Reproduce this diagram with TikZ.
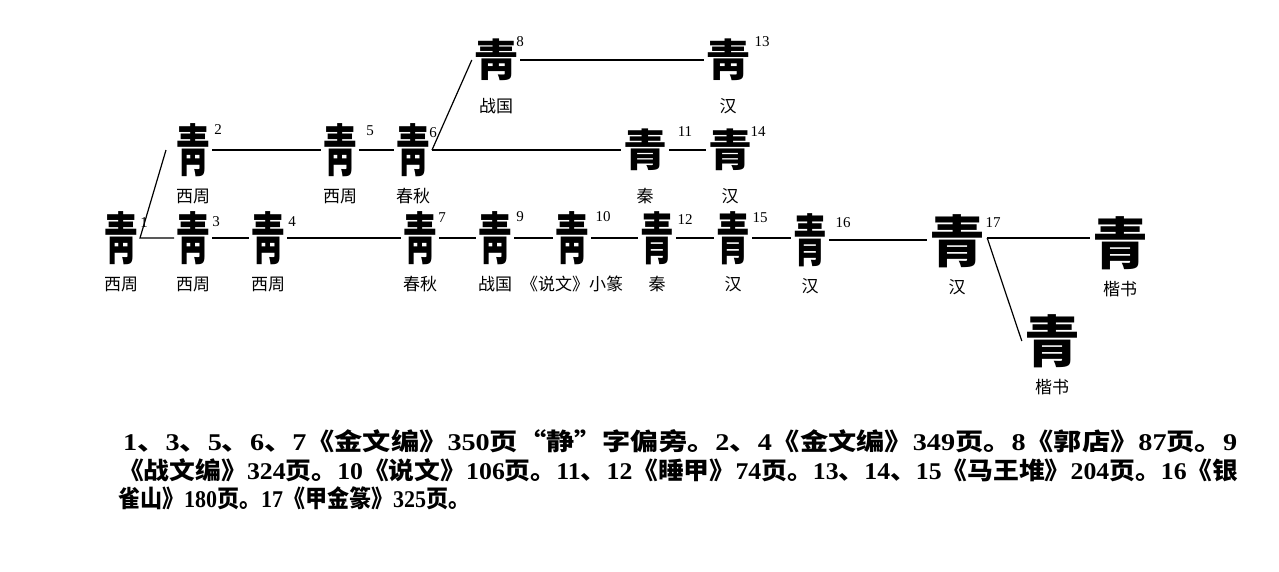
\documentclass[tikz,border=0pt]{standalone}
\usepackage{graphicx}
\usepackage{fontspec}
\setmainfont{Liberation Serif}
\newfontfamily\cjk{Noto Sans CJK SC}
\newcommand\narrow[1]{\scalebox{.6}[1]{#1}}
\newcommand\nr[1]{\textrm{#1}}

\begin{document}
\begin{tikzpicture}[x=1pt,y=-1pt,
                glyph/.style = {inner sep=2pt, font=\cjk\bfseries\fontsize{56}{56}\selectfont},
                small glyph/.style = {glyph, font=\cjk\bfseries\fontsize{44}{44}\selectfont},
                era/.style = {inner sep=1pt, font=\cjk\fontsize{17}{17}\selectfont},
                num/.style = {inner sep=0pt, font=\fontsize{15}{15}\selectfont},
                link/.style = {line width=1.2pt},
                note/.style = {anchor=west, inner sep=0pt, font=\cjk\bfseries\fontsize{24}{24}\selectfont}
            ]
            \useasboundingbox (0,0) rectangle (1279,571);
            % top rows
            \node[small glyph] (g8) at (496,60) {靑};
            \node[small glyph] (g13) at (728,60) {靑};
            \node[glyph] (g2) at (193,150) {\narrow{靑}};
            \node[glyph] (g5) at (340,150) {\narrow{靑}};
            \node[glyph] (g6) at (413,150) {\narrow{靑}};
            \node[small glyph] (g11) at (645,150) {青};
            \node[small glyph] (g14) at (730,150) {青};
            % main row
            \node[glyph] (g1) at (121,238) {\narrow{靑}};
            \node[glyph] (g3) at (193,238) {\narrow{靑}};
            \node[glyph] (g4) at (268,238) {\narrow{靑}};
            \node[glyph] (g7) at (420,238) {\narrow{靑}};
            \node[glyph] (g9) at (495,238) {\narrow{靑}};
            \node[glyph] (g10) at (572,238) {\narrow{靑}};
            \node[glyph] (g12) at (657,238) {\narrow{青}};
            \node[glyph] (g15) at (733,238) {\narrow{青}};
            \node[glyph] (g16) at (810,240) {\narrow{青}};
            \node[glyph] (g17) at (957,241) {青};
            \node[glyph] (g18) at (1120,243) {青};
            \node[glyph] (g19) at (1052,341) {青};

            % numbers
            \foreach \g/\dx/\dy in {1/23/-15, 2/25/-20, 3/23/-16, 4/24/-16, 5/30/-19,
                                   6/20/-17, 7/22/-20, 8/24/-18, 9/25/-21, 10/31/-21,
                                   11/40/-18, 12/28/-18, 13/34/-18, 14/28/-18,
                                   15/27/-20, 16/33/-17, 17/36/-18}
                \node[num] (n\g) at ([shift={(\dx,\dy)}]g\g) {\g};

            % periods
            \foreach \g/\t in {1/西周, 2/西周, 3/西周, 4/西周, 5/西周, 6/春秋, 7/春秋,
                               8/战国, 9/战国, 10/《说文》小篆, 11/秦, 12/秦, 13/汉,
                               14/汉, 15/汉, 16/汉, 17/汉, 18/楷书, 19/楷书}
                \node[era] (e\g) at ([shift={(0,46)}]g\g) {\t};

            % links, kept level with the left form
            \foreach \a/\b in {3/4, 4/7, 7/9, 9/10, 10/12, 12/15, 15/16, 16/17,
                               2/5, 5/6, 6/11, 11/14, 8/13}
                \draw[link] (g\a.east) -- (g\a.east -| g\b.west);
            \draw[link] (g17.east |- g3) -- (g18.west |- g3);
            \draw[link] ([xshift=-8pt]g2.west) -- (g1.east) -- (g3.west);
            \draw[link] (g8.west) -- (g6.east);
            \draw[link] (g17.east |- g3) -- (g19.west);

            % sources
            \node[note] (fn1) at (123,441) {\resizebox{1114pt}{\height}{\nr{1}、\nr{3}、\nr{5}、\nr{6}、\nr{7}《金文编》\nr{350}页“静”字偏旁。\nr{2}、\nr{4}《金文编》\nr{349}页。\nr{8}《郭店》\nr{87}页。\nr{9}}};
            \node[note] (fn2) at (118,470) {\resizebox{1120pt}{\height}{《战文编》\nr{324}页。\nr{10}《说文》\nr{106}页。\nr{11}、\nr{12}《睡甲》\nr{74}页。\nr{13}、\nr{14}、\nr{15}《马王堆》\nr{204}页。\nr{16}《银}};
            \node[note] (fn3) at (118,498) {\resizebox{352pt}{\height}{雀山》\nr{180}页。\nr{17}《甲金篆》\nr{325}页。}};
        \end{tikzpicture}
\end{document}
